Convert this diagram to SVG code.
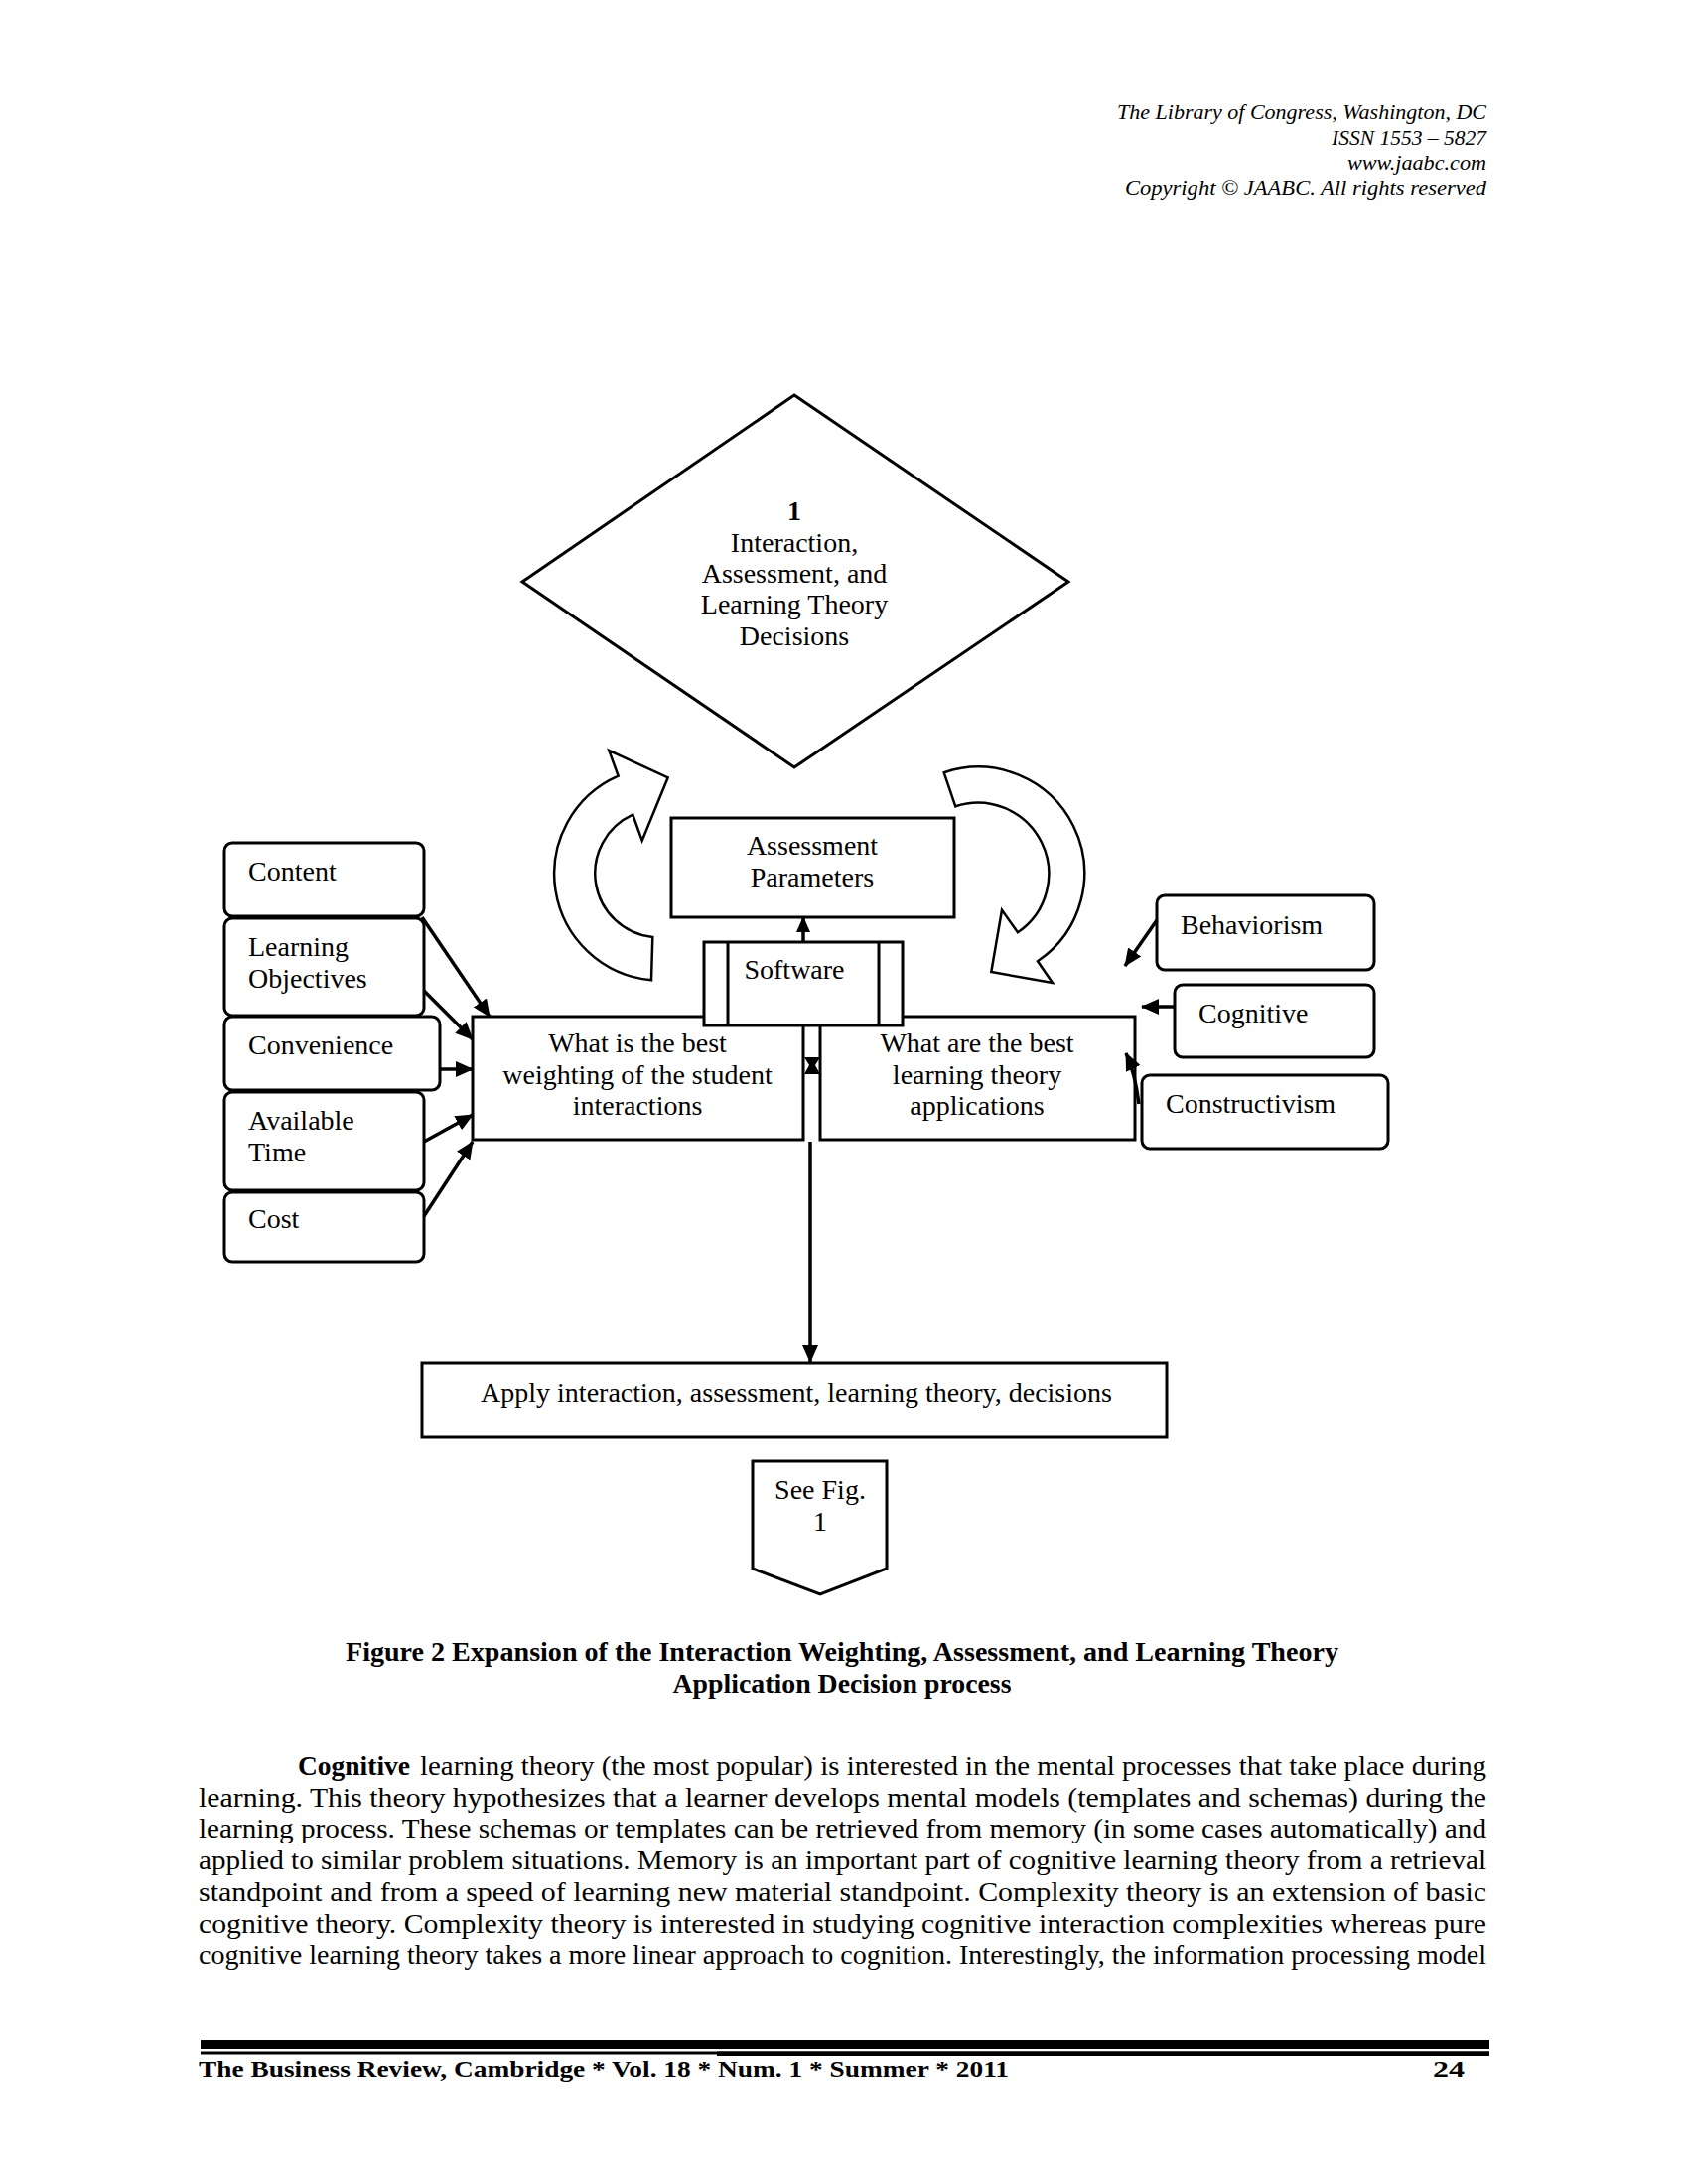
<svg xmlns="http://www.w3.org/2000/svg" width="1700" height="2200" viewBox="0 0 1700 2200">
<defs>
<marker id="ah" markerUnits="userSpaceOnUse" markerWidth="18" markerHeight="18" viewBox="0 0 18 18" refX="17" refY="9" orient="auto"><path d="M0,1 L18,9 L0,17 Z" fill="#000"/></marker>
<marker id="ahs" markerUnits="userSpaceOnUse" markerWidth="16" markerHeight="16" viewBox="0 0 16 16" refX="15" refY="8" orient="auto"><path d="M0,1 L16,8 L0,15 Z" fill="#000"/></marker>
</defs>
<style>
.t{font-family:"Liberation Serif","Times New Roman",serif;font-size:28px;fill:#000}
.c{text-anchor:middle}
.box{fill:#fff;stroke:#000;stroke-width:3}
.ln{stroke:#000;stroke-width:3.5;fill:none}
.ca{fill:#fff;stroke:#000;stroke-width:2.5;stroke-linejoin:miter}
.hd{font-family:"Liberation Serif","Times New Roman",serif;font-style:italic;font-size:22px;text-anchor:end;fill:#000}
.body{font-family:"Liberation Serif","Times New Roman",serif;font-size:27.5px;fill:#000}
.cap{font-family:"Liberation Serif","Times New Roman",serif;font-size:27px;font-weight:bold;text-anchor:middle;fill:#000}
.ft{font-family:"Liberation Serif","Times New Roman",serif;font-size:23px;font-weight:bold;fill:#000}
</style>
<rect width="1700" height="2200" fill="#fff"/>

<g id="header">
<text class="hd" x="1497" y="120" textLength="372" lengthAdjust="spacingAndGlyphs">The Library of Congress, Washington, DC</text>
<text class="hd" x="1497" y="146" textLength="156" lengthAdjust="spacingAndGlyphs">ISSN 1553 – 5827</text>
<text class="hd" x="1497" y="171" textLength="140" lengthAdjust="spacingAndGlyphs">www.jaabc.com</text>
<text class="hd" x="1497" y="196" textLength="364" lengthAdjust="spacingAndGlyphs">Copyright ©  JAABC. All rights reserved</text>
</g>

<g id="decision">
<polygon class="box" points="800,398 1076,586 800,773 526,586"/>
<text class="t c" x="800" y="524" font-weight="bold">1</text>
<text class="t c" x="800" y="556">Interaction,</text>
<text class="t c" x="800" y="587">Assessment, and</text>
<text class="t c" x="800" y="618">Learning Theory</text>
<text class="t c" x="800" y="650">Decisions</text>
</g>

<g id="cycle-left">
<path class="ca" d="M656,987.3 A107.5,107.5 0 0 1 622.7,781.7 L613.3,756 L672.7,783.3 L646.7,846.7 L637.3,820.7 A64.7,64.7 0 0 0 657.3,944 Z"/>
</g>
<g id="cycle-right">
<path class="ca" d="M950.7,778.3 A107,107 0 0 1 1045,968.3 L1060,990 L998.3,979 L1009,916.7 L1025,939.3 A71.5,71.5 0 0 0 962.3,812.3 Z"/>
</g>

<g id="assessment">
<rect class="box" x="676" y="824" width="285" height="100"/>
<text class="t c" x="818" y="861">Assessment</text>
<text class="t c" x="818" y="893">Parameters</text>
</g>

<g id="weighting">
<rect class="box" x="476" y="1024" width="333" height="124"/>
<text class="t c" x="642" y="1060">What is the best</text>
<text class="t c" x="642" y="1092">weighting of the student</text>
<text class="t c" x="642" y="1123">interactions</text>
</g>

<g id="theory">
<rect class="box" x="826" y="1024" width="317" height="124"/>
<text class="t c" x="984" y="1060">What are the best</text>
<text class="t c" x="984" y="1092">learning theory</text>
<text class="t c" x="984" y="1123">applications</text>
</g>

<g id="software">
<rect class="box" x="709" y="949" width="200" height="84"/>
<line x1="733" y1="949" x2="733" y2="1033" stroke="#000" stroke-width="3"/>
<line x1="885" y1="949" x2="885" y2="1033" stroke="#000" stroke-width="3"/>
<text class="t c" x="800" y="986">Software</text>
</g>

<g id="content"><rect class="box" x="226" y="849" width="201" height="74" rx="8"/><text class="t" x="250" y="887">Content</text></g>
<g id="objectives"><rect class="box" x="226" y="925" width="201" height="98" rx="8"/><text class="t" x="250" y="963">Learning</text><text class="t" x="250" y="995">Objectives</text></g>
<g id="convenience"><rect class="box" x="226" y="1024" width="217" height="74" rx="8"/><text class="t" x="250" y="1062">Convenience</text></g>
<g id="time"><rect class="box" x="226" y="1100" width="201" height="99" rx="8"/><text class="t" x="250" y="1138">Available</text><text class="t" x="250" y="1170">Time</text></g>
<g id="cost"><rect class="box" x="226" y="1201" width="201" height="70" rx="8"/><text class="t" x="250" y="1237">Cost</text></g>

<g id="behaviorism"><rect class="box" x="1165" y="902" width="219" height="75" rx="8"/><text class="t" x="1189" y="941">Behaviorism</text></g>
<g id="cognitive"><rect class="box" x="1183" y="992" width="201" height="73" rx="8"/><text class="t" x="1207" y="1030">Cognitive</text></g>
<g id="constructivism"><rect class="box" x="1150" y="1083" width="248" height="74" rx="8"/><text class="t" x="1174" y="1121">Constructivism</text></g>

<g id="apply">
<rect class="box" x="425" y="1373" width="750" height="75"/>
<text class="t c" x="802" y="1412">Apply interaction, assessment, learning theory, decisions</text>
</g>

<g id="offpage">
<path class="box" d="M758,1472 H893 V1580 L826,1606 L758,1580 Z"/>
<text class="t c" x="826" y="1510">See Fig.</text>
<text class="t c" x="826" y="1542">1</text>
</g>

<g id="connectors">
<line class="ln" x1="425" y1="924" x2="493" y2="1024" marker-end="url(#ah)"/>
<line class="ln" x1="427" y1="998" x2="476" y2="1047" marker-end="url(#ah)"/>
<line class="ln" x1="443" y1="1077" x2="476" y2="1077" marker-end="url(#ah)"/>
<line class="ln" x1="427" y1="1150" x2="476" y2="1123" marker-end="url(#ah)"/>
<line class="ln" x1="427" y1="1225" x2="476" y2="1150" marker-end="url(#ah)"/>
<line class="ln" x1="1165" y1="927" x2="1133" y2="973" marker-end="url(#ah)"/>
<line class="ln" x1="1183" y1="1014" x2="1150" y2="1014" marker-end="url(#ah)"/>
<path class="ln" d="M1147,1112 Q1143,1080 1134,1061" marker-end="url(#ah)"/>
<line class="ln" x1="809" y1="949" x2="809" y2="924" marker-end="url(#ahs)"/>
<line class="ln" x1="816" y1="1150" x2="816" y2="1372" marker-end="url(#ah)"/>
<polygon points="810,1065 826,1065 821,1073 826,1082 810,1082 815,1073" fill="#000"/>
</g>

<g id="caption">
<text class="cap" x="848" y="1673" textLength="1000" lengthAdjust="spacingAndGlyphs">Figure 2  Expansion of the Interaction Weighting, Assessment, and Learning Theory</text>
<text class="cap" x="848" y="1705" textLength="341" lengthAdjust="spacingAndGlyphs">Application Decision process</text>
</g>

<g id="paragraph">
<text class="body" x="300" y="1788" font-weight="bold" textLength="113" lengthAdjust="spacingAndGlyphs">Cognitive</text>
<text class="body" x="423" y="1788" textLength="1074" lengthAdjust="spacingAndGlyphs">learning theory (the most popular) is interested in the mental processes that take place during</text>
<text class="body" x="200" y="1820" textLength="1297" lengthAdjust="spacingAndGlyphs">learning.  This theory hypothesizes that a learner develops mental models (templates and schemas) during the</text>
<text class="body" x="200" y="1851" textLength="1297" lengthAdjust="spacingAndGlyphs">learning process.  These schemas or templates can be retrieved from memory (in some cases automatically) and</text>
<text class="body" x="200" y="1883" textLength="1297" lengthAdjust="spacingAndGlyphs">applied to similar problem situations.  Memory is an important part of cognitive learning theory from a retrieval</text>
<text class="body" x="200" y="1915" textLength="1297" lengthAdjust="spacingAndGlyphs">standpoint and from a speed of learning new material standpoint.  Complexity theory is an extension of basic</text>
<text class="body" x="200" y="1947" textLength="1297" lengthAdjust="spacingAndGlyphs">cognitive theory.  Complexity theory is interested in studying cognitive interaction complexities whereas pure</text>
<text class="body" x="200" y="1978" textLength="1297" lengthAdjust="spacingAndGlyphs">cognitive learning theory takes a more linear approach to cognition.  Interestingly, the information processing model</text>
</g>

<g id="footer">
<rect x="202" y="2055" width="1298" height="9" fill="#000"/>
<rect x="202" y="2066.5" width="1298" height="3" fill="#000"/>
<rect x="722" y="2066.5" width="778" height="4.5" fill="#000"/>
<text class="ft" x="200" y="2092" textLength="816" lengthAdjust="spacingAndGlyphs">The Business Review, Cambridge * Vol. 18 * Num. 1 * Summer * 2011</text>
<text class="ft" x="1443" y="2092" textLength="32" lengthAdjust="spacingAndGlyphs">24</text>
</g>
</svg>
